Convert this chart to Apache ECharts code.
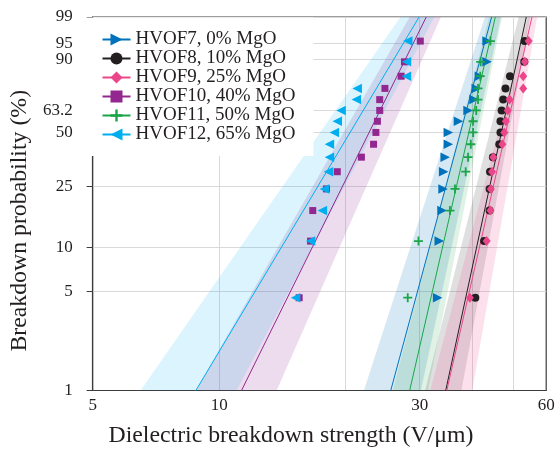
<!DOCTYPE html>
<html><head><meta charset="utf-8">
<script src="https://cdn.jsdelivr.net/npm/echarts@6/dist/echarts.min.js"></script>
<style>html,body{margin:0;padding:0;background:#fff}#c{width:559px;height:454px}</style>
</head><body><div id="c"></div>
<script>
// ---- data ----
const seriesNames = ['HVOF7, 0% MgO','HVOF8, 10% MgO','HVOF9, 25% MgO','HVOF10, 40% MgO','HVOF11, 50% MgO','HVOF12, 65% MgO'];
const yProbTicks = [1, 5, 10, 25, 50, 63.2, 90, 95, 99];
const xTickLabels = [5, 10, 30, 60];
const xGridLines = [10, 20, 30, 40, 50];
// breakdown probability of each ranked point (%)
const rankProb = [4.5, 11.0, 17.5, 24.0, 30.5, 37.0, 43.5, 50.0, 56.5, 63.0, 69.5, 76.0, 82.5, 89.0, 95.5];
// breakdown strengths (V/um)
const hvof7  = [33.1, 33.4, 33.9, 34.1, 34.2, 34.5, 35.1, 35.1, 37.1, 39.1, 40.4, 40.9, 41.6, 43.4, 43.4];
const hvof8  = [40.7, 42.7, 44.0, 44.0, 44.1, 44.8, 46.4, 46.7, 46.7, 47.0, 47.4, 48.0, 49.2, 53.2, 53.3];
const hvof9  = [39.5, 43.3, 44.2, 44.3, 44.6, 44.9, 47.2, 47.7, 48.1, 48.6, 49.1, 52.9, 52.9, 53.4, 54.5];
const hvof10 = [15.5, 16.5, 16.7, 18.0, 19.1, 21.8, 23.3, 23.6, 23.8, 24.1, 24.1, 24.8, 27.1, 27.6, 30.1];
const hvof11 = [28.1, 29.8, 35.4, 36.4, 38.6, 39.1, 39.7, 40.2, 40.2, 40.9, 41.3, 41.3, 41.8, 41.9, 44.2];
const hvof12 = [15.2, 16.5, 17.6, 17.8, 18.2, 18.3, 18.3, 18.8, 19.1, 19.5, 21.2, 21.3, 27.9, 27.9, 28.1];
// fitted Weibull lines: strength at 1% and 99%
const fitProb = [1, 99];
const fit7 = [25.6, 44.5], fit8 = [34.6, 53.8], fit9 = [34.8, 55.5];
const fit10 = [11.3, 31.1], fit11 = [28.4, 45.4], fit12 = [8.8, 29.9];
// confidence bands: lower / upper strength at 1% and 99%
const band7Lo = [22.1, 42.9],  band7Hi = [30.2, 46.8];
const band8Lo = [30.9, 51.6],  band8Hi = [37.7, 55.0];
const band9Lo = [31.8, 54.4],  band9Hi = [40.0, 57.1];
const band10Lo = [8.8, 28.4],  band10Hi = [13.7, 33.7];
const band11Lo = [25.9, 43.9], band11Hi = [31.4, 47.1];
const band12Lo = [6.5, 27.0],  band12Hi = [11.0, 32.5];

// ---- scales: log10 for x, Weibull ln(-ln(1-F)) for y ----
const lg = v => Math.log10(v);
const wb = p => Math.log(-Math.log(1 - p / 100));
const invWb = v => (1 - Math.exp(-Math.exp(v))) * 100;

const colors = ['#0072bc', '#231f20', '#ec468b', '#92278f', '#1ba548', '#00aeef'];
const plusPath = 'path://M0,4h4v-4h2v4h4v2h-4v4h-2v-4h-4z';
const symbols = [
  {symbol: 'triangle', rotate: -90, size: 9.5},
  {symbol: 'circle', rotate: 0, size: 8},
  {symbol: 'diamond', rotate: 0, size: [8, 10]},
  {symbol: 'rect', rotate: 0, size: 7},
  {symbol: plusPath, rotate: 0, size: 9},
  {symbol: 'triangle', rotate: 90, size: 9.5}
];
const pts = [hvof7, hvof8, hvof9, hvof10, hvof11, hvof12];
const fits = [fit7, fit8, fit9, fit10, fit11, fit12];
const bands = [[band7Lo, band7Hi], [band8Lo, band8Hi], [band9Lo, band9Hi], [band10Lo, band10Hi], [band11Lo, band11Hi], [band12Lo, band12Hi]];
const bandAlpha = [0.16, 0.14, 0.16, 0.16, 0.14, 0.14];

const FONT = 'Liberation Serif';
const series = [];
bands.forEach((b, k) => {
  series.push({
    type: 'custom', silent: true, clip: true, z: 1,
    data: [[lg(b[0][0]), lg(b[0][1]), lg(b[1][0]), lg(b[1][1])]],
    renderItem: (params, api) => {
      const yB = wb(fitProb[0]), yT = wb(fitProb[1]);
      const p = [api.coord([api.value(0), yB]), api.coord([api.value(1), yT]),
                 api.coord([api.value(3), yT]), api.coord([api.value(2), yB])];
      return {type: 'polygon', shape: {points: p}, style: {fill: colors[k], opacity: bandAlpha[k]}};
    }
  });
});
fits.forEach((f, k) => {
  series.push({
    type: 'line', name: seriesNames[k], color: colors[k], z: 3,
    symbol: symbols[k].symbol, symbolRotate: symbols[k].rotate, showSymbol: false,
    lineStyle: {width: 1, color: colors[k]}, silent: true,
    data: f.map((x, i) => [lg(x), wb(fitProb[i])])
  });
});
pts.forEach((arr, k) => {
  series.push({
    type: 'scatter', name: seriesNames[k], color: colors[k], z: 4,
    symbol: symbols[k].symbol, symbolRotate: symbols[k].rotate, symbolSize: symbols[k].size,
    itemStyle: {color: colors[k], opacity: 1},
    data: arr.map((x, i) => [lg(x), wb(rankProb[i])])
  });
});

const chart = echarts.init(document.getElementById('c'), null, {renderer: 'canvas'});
chart.setOption({
  animation: false,
  backgroundColor: '#fff',
  grid: {left: 84.5, right: 12.8, top: 17, bottom: 63.5, show: true, borderColor: '#3c3c3c', borderWidth: 1.2, backgroundColor: 'transparent'},
  legend: {
    orient: 'vertical', left: 84.5, top: 17.5, padding: [12.5, 18, 12, 17],
    backgroundColor: '#fff', itemWidth: 28, itemHeight: 15, itemGap: 0,
    textStyle: {fontFamily: FONT, fontSize: 19, color: '#231f20', lineHeight: 18.6},
    lineStyle: {width: 2}, data: seriesNames, selectedMode: false
  },
  xAxis: [{
    type: 'value', min: lg(5), max: lg(60),
    name: 'Dielectric breakdown strength (V/\u03bcm)', nameLocation: 'middle', nameGap: 33,
    nameTextStyle: {fontFamily: FONT, fontSize: 23.8, color: '#231f20', padding: [0, 57, 0, 0]},
    axisLine: {onZero: false, lineStyle: {color: '#3c3c3c', width: 1.2}},
    axisTick: {show: false, customValues: xGridLines.map(lg)},
    axisLabel: {customValues: xTickLabels.map(lg), formatter: v => String(Math.round(Math.pow(10, v))),
      hideOverlap: false,
      fontFamily: FONT, fontSize: 17, color: '#231f20', margin: 7},
    splitLine: {show: true, lineStyle: {color: '#d9d9d9', width: 1}}
  }],
  yAxis: [{
    type: 'value', min: wb(1), max: wb(99),
    name: 'Breakdown probability (%)', nameLocation: 'middle', nameGap: 52,
    nameTextStyle: {fontFamily: FONT, fontSize: 23.8, color: '#231f20', padding: [0, 34, 0, 0]},
    axisLine: {show: true, onZero: false, lineStyle: {color: '#3c3c3c', width: 1.2}},
    axisTick: {show: true, inside: false, length: 6, customValues: yProbTicks.map(wb), lineStyle: {color: '#3c3c3c'}},
    axisLabel: {customValues: yProbTicks.map(wb), margin: 20,
      formatter: v => { const p = invWb(v); let best = yProbTicks[0]; yProbTicks.forEach(t => { if (Math.abs(t - p) < Math.abs(best - p)) best = t; }); return String(best); },
      fontFamily: FONT, fontSize: 17, color: '#231f20'},
    splitLine: {show: true, lineStyle: {color: '#d9d9d9', width: 1}}
  }],
  series: series
});
</script></body></html>
